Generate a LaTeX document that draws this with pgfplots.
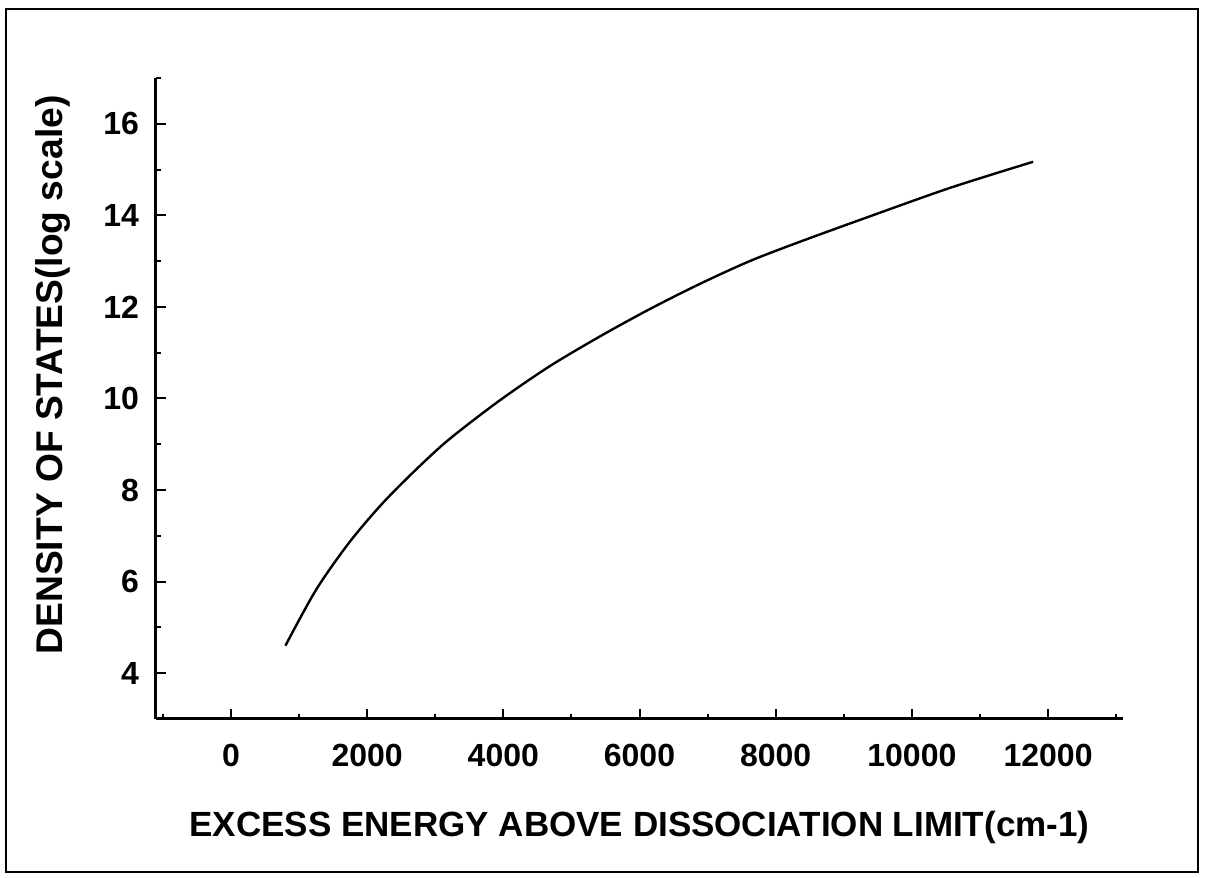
\documentclass[border=0pt]{standalone}
\usepackage{fontspec}
\setmainfont{Liberation Sans}
\usepackage{pgfplots}
\pgfplotsset{compat=1.18}
\begin{document}
\begin{tikzpicture}
\path[use as bounding box] (-78pt,-79.5pt) rectangle (524.5pt,359.5pt);
\draw[line width=1.2pt] (-75pt,-76.5pt) rectangle (521pt,355pt);
\begin{axis}[
  at={(0,0)}, anchor=south west,
  scale only axis,
  width=483.5pt, height=320.5pt,
  xmin=-1100, xmax=13100,
  ymin=3, ymax=17,
  axis lines*=left,
  axis line style={line width=1.5pt},
  xtick={0,2000,4000,6000,8000,10000,12000},
  ytick={4,6,8,10,12,14,16},
  minor xtick={-1000,1000,3000,5000,7000,9000,11000,13000},
  minor ytick={5,7,9,11,13,15,17},
  tick align=inside,
  major tick length=5pt,
  minor tick length=2.5pt,
  every tick/.style={black, line width=1pt},
  scaled x ticks=false,
  /pgf/number format/assume math mode=true,
  /pgf/number format/1000 sep={},
  ticklabel style={font=\bfseries\fontsize{16}{16}\selectfont},
  xticklabel shift=9pt,
  yticklabel shift=5pt,
  xlabel={EXCESS ENERGY ABOVE DISSOCIATION LIMIT(cm-1)},
  ylabel={DENSITY OF STATES(log scale)},
  every axis x label/.style={at={(axis description cs:0.5,0)}, yshift=-54pt, anchor=center, font=\bfseries\fontsize{17.5}{17.5}\selectfont},
  every axis y label/.style={at={(axis description cs:-0.1065,0.5367)}, rotate=90, anchor=center, font=\bfseries\fontsize{18.6}{18.6}\selectfont},
  clip=false,
]
\addplot[black, line width=1.2pt, smooth] coordinates {
(800,4.60) (1250,5.82) (1735,6.85) (2220,7.70) (2720,8.45) (3206,9.11)
(3940,9.95) (4676,10.70) (5412,11.35) (6147,11.95) (6882,12.50) (7618,13.00)
(8350,13.42) (9330,13.95) (10560,14.60) (11780,15.17)
};
\end{axis}
\end{tikzpicture}
\end{document}
